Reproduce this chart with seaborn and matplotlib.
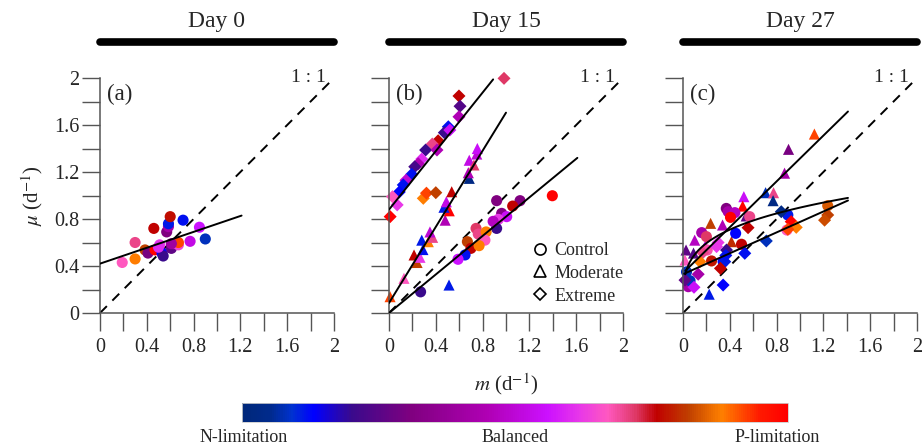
import numpy as np
import pandas as pd
import matplotlib
matplotlib.use("Agg")
import matplotlib.pyplot as plt
import seaborn as sns
from matplotlib.colors import LinearSegmentedColormap
from matplotlib.lines import Line2D
from matplotlib.cm import ScalarMappable
from matplotlib.colors import Normalize

# =========================================================
# DATA
# idx: nutrient limitation index, 0 = N-limitation, 1 = P-limitation
# =========================================================
days = ["Day 0", "Day 15", "Day 27"]
panel_tags = ["(a)", "(b)", "(c)"]
treatments = ["Control", "Moderate", "Extreme"]

# Day 0 (only control-type circles)
day0_m = [0.19, 0.30, 0.30, 0.385, 0.41, 0.46, 0.47, 0.51, 0.53, 0.54, 0.57, 0.585,
          0.585, 0.60, 0.61, 0.63, 0.67, 0.67, 0.71, 0.77, 0.85, 0.90, 0.61, 0.50]
day0_mu = [0.43, 0.46, 0.60, 0.537, 0.51, 0.72, 0.537, 0.58, 0.51, 0.485, 0.69, 0.735,
           0.76, 0.82, 0.55, 0.59, 0.58, 0.60, 0.79, 0.61, 0.73, 0.63, 0.59, 0.56]
day0_idx = [0.67, 0.88, 0.70, 0.82, 0.30, 0.76, 1.00, 0.62, 0.13, 0.20, 0.31, 0.42,
            0.11, 0.77, 0.26, 0.47, 0.64, 0.92, 0.12, 0.52, 0.56, 0.08, 0.40, 0.60]
day0_trt = ["Control"] * len(day0_m)

# Day 15
day15_m = [
    # Extreme
    0.983, 0.598, 0.607, 0.598, 0.507, 0.473, 0.52, 0.42, 0.37, 0.313, 0.41, 0.28,
    0.25, 0.22, 0.194, 0.145, 0.122, 0.088, 0.03, 0.07, 0.01, 0.293, 0.32, 0.40,
    # Moderate
    0.009, 0.128, 0.214, 0.24, 0.265, 0.29, 0.28, 0.336, 0.373, 0.35, 0.48, 0.515,
    0.47, 0.49, 0.536, 0.513, 0.686, 0.678, 0.686, 0.726, 0.75, 0.755,
    # Control
    0.92, 1.12, 1.057, 1.396, 0.963, 1.006, 0.906, 0.934, 0.92, 0.744, 0.763, 0.83,
    0.82, 0.67, 0.70, 0.77, 0.65, 0.59, 0.27, 0.89,
]
day15_mu = [
    1.997, 1.847, 1.76, 1.67, 1.585, 1.535, 1.557, 1.466, 1.438, 1.387, 1.387, 1.31,
    1.27, 1.245, 1.18, 1.13, 1.09, 1.03, 0.99, 0.92, 0.82, 0.976, 1.02, 1.024,
    0.139, 0.295, 0.494, 0.43, 0.474, 0.54, 0.62, 0.607, 0.644, 0.69, 0.79, 0.87,
    0.90, 0.947, 1.032, 0.238, 1.146, 1.194, 1.30, 1.26, 1.353, 1.40,
    0.956, 0.956, 0.91, 0.998, 0.848, 0.82, 0.777, 0.797, 0.72, 0.72, 0.672, 0.69,
    0.62, 0.607, 0.55, 0.573, 0.494, 0.457, 0.18, 0.78,
]
day15_idx = [
    0.72, 0.76, 0.24, 0.45, 0.12, 0.20, 0.55, 0.76, 0.70, 0.20, 0.45, 0.60,
    0.45, 0.22, 0.12, 0.50, 0.12, 0.13, 0.67, 0.62, 1.00, 0.88, 0.92, 0.82,
    0.92, 0.67, 0.76, 0.82, 0.62, 0.12, 0.11, 0.88, 0.70, 0.50, 0.45, 1.00,
    0.11, 0.52, 0.76, 0.11, 0.03, 0.45, 0.52, 0.72, 0.50, 0.55,
    0.31, 0.31, 0.76, 1.00, 0.33, 0.55, 0.50, 0.62, 0.20, 0.72, 0.70, 0.88,
    0.67, 0.82, 0.76, 0.88, 0.12, 0.56, 0.20, 0.47,
]
day15_trt = ["Extreme"] * 24 + ["Moderate"] * 22 + ["Control"] * 20

# Day 27
day27_m = [
    # Moderate
    1.123, 0.902, 0.868, 0.706, 0.774, 0.77, 0.52, 0.51, 0.54, 0.236, 0.338, 0.10,
    0.414, 0.026, 0.017, 0.09, 0.224, 0.19,
    # Control
    0.37, 0.386, 0.443, 0.406, 0.57, 0.45, 0.16, 0.20, 0.50, 0.207, 0.244, 0.896,
    0.888, 1.237, 0.03, 0.045, 0.06, 0.343,
    # Extreme
    0.84, 0.925, 0.968, 0.896, 1.237, 1.21, 0.556, 0.712, 0.528, 0.372, 0.287, 0.168,
    0.145, 0.13, 0.094, 0.343, 0.357, 0.32, 0.017, 0.30, 0.366,
]
day27_mu = [
    1.523, 1.393, 1.19, 1.024, 1.024, 0.956, 0.99, 0.91, 0.826, 0.763, 0.749, 0.62,
    0.607, 0.536, 0.45, 0.51, 0.16, 0.57,
    0.89, 0.862, 0.854, 0.814, 0.82, 0.678, 0.684, 0.65, 0.585, 0.536, 0.443, 0.834,
    0.706, 0.913, 0.35, 0.224, 0.275, 0.437,
    0.862, 0.777, 0.729, 0.712, 0.834, 0.79, 0.726, 0.613, 0.508, 0.536, 0.565, 0.513,
    0.437, 0.33, 0.219, 0.238, 0.437, 0.38, 0.28, 0.60, 0.49,
]
day27_idx = [
    0.92, 0.30, 0.42, 0.08, 0.70, 0.03, 0.55, 1.00, 0.26, 0.82, 0.45, 0.47,
    0.80, 0.26, 0.67, 0.24, 0.11, 0.55,
    0.31, 0.42, 0.47, 1.00, 0.70, 0.13, 0.42, 0.72, 0.76, 0.68, 0.78, 0.11,
    0.67, 0.84, 0.08, 0.42, 0.08, 0.13,
    0.03, 1.00, 0.88, 0.92, 0.82, 0.83, 0.76, 0.08, 0.12, 0.20, 0.62, 0.70,
    0.88, 0.42, 0.55, 0.13, 0.11, 0.76, 0.26, 0.62, 0.12,
]
day27_trt = ["Moderate"] * 18 + ["Control"] * 18 + ["Extreme"] * 21

# fitted lines: (kind, a, b, x_start, x_end) -> lin: a + b*m ; pow: a * m**b
fits = [
    [("lin", 0.42, 0.338, 0.0, 1.21)],
    [("lin", 0.00, 0.82, 0.0, 1.61),
     ("lin", 0.085, 1.62, 0.0, 1.0),
     ("lin", 0.88, 1.245, 0.0, 0.89)],
    [("lin", 0.34, 0.975, 0.02, 1.41),
     ("pow", 0.897, 0.256, 0.02, 1.41),
     ("lin", 0.33, 0.445, 0.01, 1.41)],
]

# colour scale stops
cmap_stops = [
    (0.00, "#00287a"), (0.05, "#002a8c"), (0.09, "#0032d0"), (0.13, "#0000ff"),
    (0.20, "#3a0a8c"), (0.31, "#800080"), (0.45, "#b000b4"), (0.56, "#cc10ff"),
    (0.62, "#e838e8"), (0.67, "#ff58c0"), (0.72, "#e03a6a"),
    (0.76, "#c00000"), (0.82, "#c04000"), (0.88, "#ff8000"), (0.95, "#ff1a00"),
    (1.00, "#ff0000"),
]

# =========================================================
# STYLE
# =========================================================
sns.set_style("ticks")
plt.rcParams["font.family"] = ["Liberation Serif", "DejaVu Serif"]
plt.rcParams["mathtext.fontset"] = "stix"

cmap = LinearSegmentedColormap.from_list("limitation", cmap_stops)
markers = {"Control": "o", "Moderate": "^", "Extreme": "D"}
marker_sizes = {"Control": 64, "Moderate": 64, "Extreme": 44}

panels = [
    pd.DataFrame({"m": day0_m, "mu": day0_mu, "idx": day0_idx, "trt": day0_trt}),
    pd.DataFrame({"m": day15_m, "mu": day15_mu, "idx": day15_idx, "trt": day15_trt}),
    pd.DataFrame({"m": day27_m, "mu": day27_mu, "idx": day27_idx, "trt": day27_trt}),
]

fig = plt.figure(figsize=(9.24, 4.47), dpi=100)
lefts = [100 / 924, 389 / 924, 683 / 924]
w = 234 / 924
bottom = 1 - 313 / 447
h = 235 / 447

axes = []
for i, df in enumerate(panels):
    ax = fig.add_axes([lefts[i], bottom, w, h])
    axes.append(ax)

    # 1:1 line
    ax.plot([0, 2], [0, 2], ls=(0, (5, 4)), color="black", lw=1.4, zorder=1)

    for kind, a, b, x0, x1 in fits[i]:
        xx = np.linspace(x0, x1, 100)
        yy = a + b * xx if kind == "lin" else a * xx ** b
        ax.plot(xx, yy, color="black", lw=1.4, zorder=3)

    sns.scatterplot(
        data=df, x="m", y="mu", hue="idx", palette=cmap, hue_norm=(0, 1),
        style="trt", markers=markers, size="trt", sizes=marker_sizes,
        linewidth=0, legend=False, ax=ax, zorder=2, clip_on=False,
    )

    ax.set_xlim(0, 2)
    ax.set_ylim(0, 2)
    ticks = [0, 0.4, 0.8, 1.2, 1.6, 2]
    labels = ["0", "0.4", "0.8", "1.2", "1.6", "2"]
    ax.set_xticks(ticks)
    ax.set_xticklabels(labels)
    ax.set_xticks([0.2, 0.6, 1.0, 1.4, 1.8], minor=True)
    ax.set_yticks(ticks)
    ax.set_yticks([0.2, 0.6, 1.0, 1.4, 1.8], minor=True)
    if i == 0:
        ax.set_yticklabels(labels)
    else:
        ax.set_yticklabels([])
    ax.tick_params(which="both", direction="out", length=13, width=1.0,
                   color="#555555", labelsize=14.5)
    ax.tick_params(axis="x", pad=5)
    ax.tick_params(axis="y", pad=2)
    for side in ["top", "right"]:
        ax.spines[side].set_visible(False)
    for side in ["left", "bottom"]:
        ax.spines[side].set_color("#555555")
        ax.spines[side].set_linewidth(1.1)
    ax.set_xlabel("")
    ax.set_ylabel("")

    ax.text(0.06, 1.86, panel_tags[i], fontsize=16.5, ha="left", va="center")
    ax.text(1.93, 2.0, "1 : 1", fontsize=14, ha="right", va="center")

    # header bar + day title
    ax.plot([0, 1], [1.153, 1.153], transform=ax.transAxes, color="black",
            lw=5.5, solid_capstyle="round", clip_on=False)
    ax.text(0.5, 1.215, days[i], transform=ax.transAxes, fontsize=17,
            ha="center", va="baseline")

axes[0].set_ylabel(r"$\mu$ (d$^{-1}$)", fontsize=15, labelpad=6)
axes[1].set_xlabel(r"$m$ (d$^{-1}$)", fontsize=15, labelpad=10)

handles = [Line2D([], [], ls="", marker=markers[t], mfc="none", mec="black",
                  mew=1.2, ms=8 if t != "Extreme" else 6.5) for t in treatments]
axes[1].legend(handles, treatments, loc="lower left", bbox_to_anchor=(0.56, -0.01),
               frameon=False, fontsize=13, handletextpad=0.3, labelspacing=0.32,
               handlelength=1.0, borderaxespad=0.2)

# colour bar
cax = fig.add_axes([242 / 924, 1 - 422 / 447, 546 / 924, 19 / 447])
cb = fig.colorbar(ScalarMappable(norm=Normalize(0, 1), cmap=cmap), cax=cax,
                  orientation="horizontal")
cb.set_ticks([])
cb.outline.set_linewidth(0.6)
cb.outline.set_edgecolor("#cccccc")

fig.text(244 / 924, 1 - 438 / 447, "N-limitation", fontsize=13, ha="center", va="center")
fig.text(515 / 924, 1 - 438 / 447, "Balanced", fontsize=13, ha="center", va="center")
fig.text(777 / 924, 1 - 438 / 447, "P-limitation", fontsize=13, ha="center", va="center")

fig.savefig("out.png", dpi=100)
